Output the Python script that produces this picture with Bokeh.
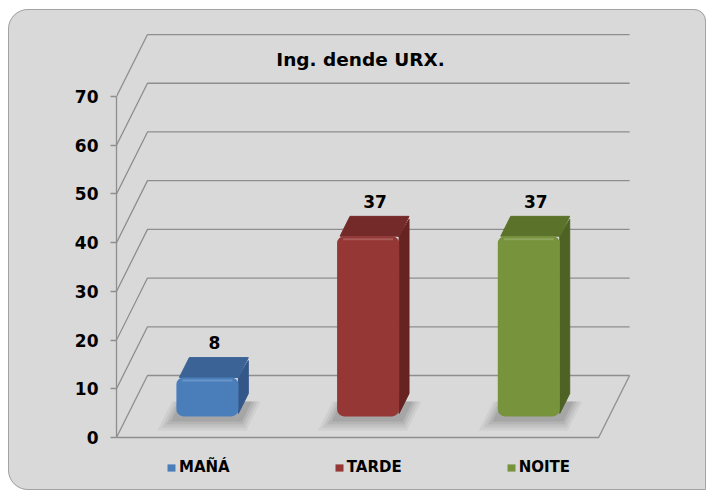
from bokeh.plotting import figure
from bokeh.models import (Range1d, FixedTicker, Label, Legend, LegendItem, ColumnDataSource)
from bokeh.embed import file_html
from bokeh.resources import INLINE
from bokeh.core.properties import value

# ---------------- data ----------------
categories = ["MAÑÁ", "TARDE", "NOITE"]
counts = [8, 37, 37]
y_ticks = [0, 10, 20, 30, 40, 50, 60, 70]
title_text = "Ing. dende URX."

# ---------------- styles ----------------
front_colors = ["#4a7ebb", "#953735", "#77933c"]
top_colors = ["#3b6396", "#742a29", "#5b722a"]
side_colors = ["#34578a", "#672322", "#4d6223"]
BG = "#d9d9d9"
GRID = "#8e8e8e"
FONT = "DejaVu Sans"

# ---------------- layout constants ----------------
W, H = 698, 481
LEFT = 108            # width of the axis panel
PX_X = 160.7          # pixels per category slot
PX_Y = 4.871          # pixels per value unit
ZERO_Y = 428          # canvas y of value 0
n = len(categories)
x_end = (W - LEFT) / PX_X
y_start = -(H - ZERO_Y) / PX_Y
y_end = ZERO_Y / PX_Y

DX = 31 / PX_X        # oblique depth offset (x)
DY = 62 / PX_Y        # oblique depth offset (y)
D1, D2 = 0.34, 0.66   # bar depth span (fraction of floor depth)
BW = 62 / PX_X        # bar width

p = figure(width=W, height=H, x_range=Range1d(0, x_end), y_range=Range1d(y_start, y_end),
           x_axis_type=None, output_backend="svg", toolbar_location=None,
           min_border_left=LEFT, min_border_right=0, min_border_top=0, min_border_bottom=0)
p.margin = (9, 0, 0, 8)
p.background_fill_alpha = 0
p.border_fill_alpha = 0
p.outline_line_color = None
p.grid.visible = False
p.styles = {"border-radius": "20px 12px 0px 20px", "overflow": "hidden",
            "background-color": BG,
            "outline": "1px solid #a3a3a3", "outline-offset": "-1px"}

ax = p.yaxis[0]
ax.ticker = FixedTicker(ticks=y_ticks)
ax.bounds = (y_ticks[0], y_ticks[-1])
ax.axis_line_color = GRID
ax.axis_line_width = 1.3
ax.major_tick_line_color = GRID
ax.major_tick_line_width = 1.3
ax.major_tick_out = 6
ax.major_tick_in = 0
ax.minor_tick_line_color = None
ax.major_label_standoff = 12
ax.major_label_text_font = FONT
ax.major_label_text_font_style = "bold"
ax.major_label_text_font_size = "17px"
ax.major_label_text_color = "black"

# ---------------- walls / floor ----------------
gx, gy = [], []
for v in y_ticks:
    gx.append([0, DX, n + DX])
    gy.append([v, v + DY, v + DY])
gx.append([0, n, n + DX])
gy.append([0, 0, DY])
p.multi_line(gx, gy, line_color=GRID, line_width=1.3)

# ---------------- bars ----------------
dxb = (D2 - D1) * DX
dyb = (D2 - D1) * DY
x0 = [i + 0.5 - BW / 2 + D1 * DX for i in range(n)]
x1 = [i + 0.5 + BW / 2 + D1 * DX for i in range(n)]
bot = [D1 * DY for _ in range(n)]
top = [c + D1 * DY for c in counts]


def floor_pt(x, t):
    return x + t * DX, t * DY


# soft shadows on the floor
for k, a in ((4, 0.06), (3, 0.08), (2, 0.10), (1, 0.12)):
    e = 3.0 * k
    sx, sy = [], []
    for i in range(n):
        xa = i + 0.5 - BW / 2 - e / PX_X
        xb = i + 0.5 + BW / 2 + (e + 3) / PX_X
        ta = D1 - (e + 2) / 62.0
        tb = D2 - 0.08
        pts = [floor_pt(xa, ta), floor_pt(xb, ta), floor_pt(xb, tb), floor_pt(xa, tb)]
        sx.append([q[0] for q in pts])
        sy.append([q[1] for q in pts])
    p.patches(sx, sy, fill_color="#3a3a3a", fill_alpha=a, line_color=None)

side_src = ColumnDataSource(dict(
    xs=[[x1[i], x1[i] + dxb, x1[i] + dxb, x1[i]] for i in range(n)],
    ys=[[bot[i] + 3 / PX_Y, bot[i] + dyb + 3 / PX_Y, top[i] + dyb - 3 / PX_Y, top[i]] for i in range(n)],
    color=side_colors))
p.patches("xs", "ys", source=side_src, fill_color="color", line_color="color", line_width=1)

top_src = ColumnDataSource(dict(
    xs=[[x0[i] + 3 / PX_X, x1[i], x1[i] + dxb, x0[i] + dxb + 3 / PX_X] for i in range(n)],
    ys=[[top[i], top[i], top[i] + dyb, top[i] + dyb] for i in range(n)],
    color=top_colors))
p.patches("xs", "ys", source=top_src, fill_color="color", line_color="color", line_width=1)

front_src = ColumnDataSource(dict(left=x0, right=x1, bottom=bot, top=top,
                                  color=front_colors, cat=categories))
front = p.quad(left="left", right="right", bottom="bottom", top="top", source=front_src,
               fill_color="color", line_color=None, border_radius=7)

# subtle bevel highlight along the top edge of each front face
p.segment(x0=[a + 6 / PX_X for a in x0], x1=[b - 6 / PX_X for b in x1],
          y0=[t - 3 / PX_Y for t in top], y1=[t - 3 / PX_Y for t in top],
          line_color="white", line_alpha=0.18, line_width=2)

# value labels
p.text(x=[i + 0.5 + (D1 + D2) / 2 * DX + 2 / PX_X for i in range(n)],
       y=[c + D2 * DY + 15 / PX_Y for c in counts],
       text=[str(c) for c in counts], text_align="center", text_baseline="alphabetic",
       text_font=value(FONT), text_font_style="bold", text_font_size="17px", text_color="black")

# title
p.add_layout(Label(x=(352 - LEFT) / PX_X, y=(ZERO_Y - 50.3) / PX_Y, text=title_text,
                   text_align="center", text_baseline="alphabetic", text_font=FONT,
                   text_font_style="bold", text_font_size="18.5px", text_color="black"))

# legend
legend = Legend(items=[LegendItem(label=categories[i], renderers=[front], index=i) for i in range(n)],
                orientation="horizontal", location=(50, 14), spacing=104,
                glyph_width=10, glyph_height=9, label_standoff=3,
                label_text_font=FONT, label_text_font_style="bold", label_text_font_size="15px",
                label_text_color="black",
                padding=0, margin=0, border_line_alpha=0, background_fill_alpha=0)
p.add_layout(legend)

open("out.html", "w").write(file_html(p, INLINE))
